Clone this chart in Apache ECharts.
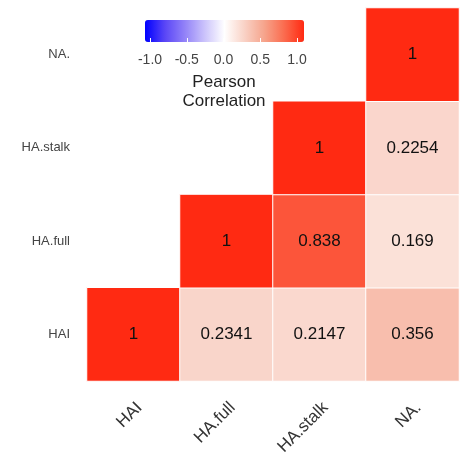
<!DOCTYPE html>
<html>
<head>
<meta charset="utf-8">
<script src="https://cdn.jsdelivr.net/npm/echarts@6/dist/echarts.min.js"></script>
<style>html,body{margin:0;padding:0;background:#fff}#c{width:460px;height:459px}</style>
</head>
<body>
<div id="c"></div>
<script>
const categories = ['HAI', 'HA.full', 'HA.stalk', 'NA.'];
// correlation rows (y category), values across x categories; null = not shown
const rowHAI     = [1, 0.2341, 0.2147, 0.356];
const rowHAfull  = [null, 1, 0.838, 0.169];
const rowHAstalk = [null, null, 1, 0.2254];
const rowNA      = [null, null, null, 1];
const legendTicks = [-1.0, -0.5, 0.0, 0.5, 1.0];

const rows = [rowHAI, rowHAfull, rowHAstalk, rowNA];
const data = [];
rows.forEach((r, yi) => r.forEach((v, xi) => { if (v !== null) data.push([xi, yi, v]); }));

const chart = echarts.init(document.getElementById('c'));
chart.setOption({
  animation: false,
  backgroundColor: '#fff',
  title: {
    text: 'Pearson\nCorrelation',
    left: 224, top: 73, textAlign: 'center', padding: 0,
    textStyle: { fontFamily: 'Liberation Sans', fontSize: 17, fontWeight: 'normal', color: '#222', lineHeight: 19 }
  },
  grid: [
    { left: 87, top: 8, width: 372, height: 373 },
    { left: 150, top: 20, width: 147, height: 22 }
  ],
  xAxis: [
    {
      type: 'category', data: categories, gridIndex: 0,
      axisLine: { show: false }, axisTick: { show: false }, splitLine: { show: false },
      axisLabel: { rotate: 45, margin: 18, verticalAlign: 'top', fontSize: 17, color: '#333', fontFamily: 'Liberation Sans' }
    },
    {
      type: 'value', gridIndex: 1, min: -1, max: 1, interval: 0.5, z: 10,
      axisLine: { show: false }, splitLine: { show: false },
      axisTick: { show: true, inside: true, length: 4, lineStyle: { color: '#fff', width: 1 } },
      axisLabel: { margin: 11, fontSize: 14, color: '#444', fontFamily: 'Liberation Sans',
        formatter: v => legendTicks.includes(v) ? v.toFixed(1) : '' }
    }
  ],
  yAxis: [
    {
      type: 'category', data: categories, gridIndex: 0,
      axisLine: { show: false }, axisTick: { show: false }, splitLine: { show: false },
      axisLabel: { margin: 17, fontSize: 13, color: '#444', fontFamily: 'Liberation Sans' }
    },
    { type: 'value', gridIndex: 1, show: false, min: 0, max: 1 }
  ],
  visualMap: {
    type: 'continuous', min: -1, max: 1, seriesIndex: 0,
    orient: 'horizontal', left: 145, top: 20, itemWidth: 22, itemHeight: 159,
    calculable: false, text: null, padding: 0, showLabel: false,
    inRange: { color: ['#0000ff', '#5a46f6', '#9282f8', '#cbc3fb', '#ffffff', '#f9d2c6', '#f6a48c', '#fb6c4f', '#ff2a12'] }
  },
  series: [
    {
      type: 'heatmap', xAxisIndex: 0, yAxisIndex: 0, data: data,
      itemStyle: { borderColor: '#fff', borderWidth: 1 },
      label: { show: true, fontSize: 17, color: '#111', fontFamily: 'Liberation Sans',
        formatter: p => String(p.value[2]) },
      emphasis: { disabled: true }
    },
    { type: 'scatter', xAxisIndex: 1, yAxisIndex: 1, data: [] }
  ]
});
</script>
</body>
</html>
